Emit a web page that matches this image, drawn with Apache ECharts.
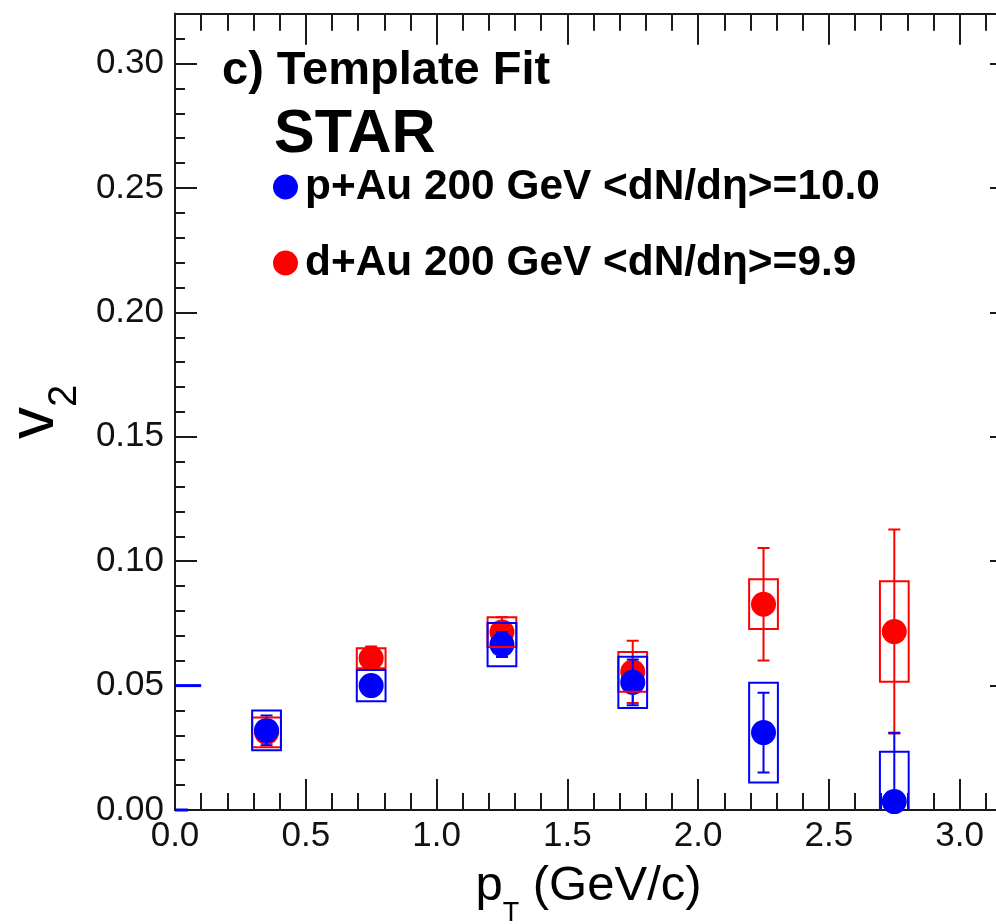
<!DOCTYPE html>
<html>
<head>
<meta charset="utf-8">
<script src="https://cdn.jsdelivr.net/npm/echarts@6/dist/echarts.min.js"></script>
<style>
  html, body { margin: 0; padding: 0; background: #ffffff; }
  #chart { width: 996px; height: 924px; }
</style>
</head>
<body>
<div id="chart"></div>
<script>
// pT bin centres (GeV/c)
const ptBins = [0.35, 0.75, 1.25, 1.75, 2.25, 2.75];

// p+Au 200 GeV, <dN/deta> = 10.0 : v2, statistical and systematic uncertainties
const pAuV2   = [0.0320, 0.0500, 0.0665, 0.0513, 0.0311, 0.0034];
const pAuStat = [0.0060, 0.0040, 0.0050, 0.0092, 0.0160, 0.0276];
const pAuSys  = [0.0080, 0.0063, 0.0087, 0.0103, 0.0200, 0.0200];

// d+Au 200 GeV, <dN/deta> = 9.9
const dAuV2   = [0.0312, 0.0610, 0.0715, 0.0555, 0.0827, 0.0717];
const dAuStat = [0.0040, 0.0047, 0.0060, 0.0125, 0.0226, 0.0410];
const dAuSys  = [0.0060, 0.0040, 0.0060, 0.0080, 0.0100, 0.0202];

// short horizontal segments sitting on the left edge: [xStart, xEnd, y]
const edgeStubs = [[0, 0.10, 0.05], [0, 0.05, 0]];

// axis ranges and tick steps
const xRange = [0, 3.2];
const yRange = [0, 0.32];
const xMajorStep = 0.5, xMinorStep = 0.1;
const yMajorStep = 0.05, yMinorStep = 0.01;

const pAuName = 'p+Au 200 GeV <dN/d\u03b7>=10.0';
const dAuName = 'd+Au 200 GeV <dN/d\u03b7>=9.9';

const BLUE = '#0000ff';
const RED = '#ff0000';
const FRAME = '#1a1a1a';
const FONT = '"Liberation Sans", Arial, Helvetica, sans-serif';
const boxHalfWidth = 0.055;   // half width of the systematic boxes, in pT units
const capHalf = 6;            // half width of error-bar caps, px

const chart = echarts.init(document.getElementById('chart'), null, { renderer: 'canvas' });

function frameAxis(kind, position, gridIndex, step, tickLen, labels, extra) {
  const range = kind === 'x' ? xRange : yRange;
  const digits = kind === 'x' ? 1 : 2;
  return Object.assign({
    type: 'value',
    gridIndex: gridIndex,
    position: position,
    min: range[0],
    max: range[1],
    interval: step,
    axisLine: { show: true, onZero: false, lineStyle: { color: FRAME, width: 2 } },
    axisTick: { show: true, inside: true, length: tickLen, lineStyle: { color: FRAME, width: 2 } },
    axisLabel: labels ? {
      show: true,
      color: '#111',
      fontFamily: FONT,
      fontSize: 35,
      margin: kind === 'x' ? 9 : 11,
      showMaxLabel: false,
      formatter: v => v.toFixed(digits)
    } : { show: false },
    splitLine: { show: false },
    minorTick: { show: false }
  }, extra || {});
}

function boxSeries(values, sys, color, z) {
  return {
    type: 'custom',
    xAxisIndex: 0, yAxisIndex: 0,
    clip: true, silent: true, z: z,
    data: ptBins.map((x, i) => [x, values[i] - sys[i], values[i] + sys[i]]),
    renderItem: function (params, api) {
      const x = api.value(0);
      const p0 = api.coord([x - boxHalfWidth, api.value(2)]);
      const p1 = api.coord([x + boxHalfWidth, api.value(1)]);
      return {
        type: 'rect',
        shape: { x: p0[0], y: p0[1], width: p1[0] - p0[0], height: p1[1] - p0[1] },
        style: { fill: 'none', stroke: color, lineWidth: 2 }
      };
    }
  };
}

function errorSeries(values, stat, color, z) {
  return {
    type: 'custom',
    xAxisIndex: 0, yAxisIndex: 0,
    clip: true, silent: true, z: z,
    data: ptBins.map((x, i) => [x, values[i] - stat[i], values[i] + stat[i]]),
    renderItem: function (params, api) {
      const lo = api.coord([api.value(0), api.value(1)]);
      const hi = api.coord([api.value(0), api.value(2)]);
      const st = { stroke: color, lineWidth: 2 };
      return {
        type: 'group',
        children: [
          { type: 'line', shape: { x1: lo[0], y1: lo[1], x2: hi[0], y2: hi[1] }, style: st },
          { type: 'line', shape: { x1: lo[0] - capHalf, y1: lo[1], x2: lo[0] + capHalf, y2: lo[1] }, style: st },
          { type: 'line', shape: { x1: hi[0] - capHalf, y1: hi[1], x2: hi[0] + capHalf, y2: hi[1] }, style: st }
        ]
      };
    }
  };
}

function markerSeries(name, values, color, z) {
  return {
    type: 'scatter',
    name: name,
    xAxisIndex: 0, yAxisIndex: 0,
    symbol: 'circle',
    symbolSize: 25,
    itemStyle: { color: color, opacity: 1 },
    silent: true, z: z,
    data: ptBins.map((x, i) => [x, values[i]])
  };
}

const plotBox = { left: 175, width: 837, top: 13.8, height: 796.2, containLabel: false, outerBoundsMode: 'none' };

const option = {
  animation: false,
  backgroundColor: '#ffffff',
  textStyle: { fontFamily: FONT },
  grid: [ Object.assign({}, plotBox), Object.assign({}, plotBox) ],
  title: [
    {
      text: 'c) Template Fit',
      left: 222, top: 48, padding: 0,
      textStyle: { fontFamily: FONT, fontSize: 47, fontWeight: 'bold', color: '#000', lineHeight: 47 }
    },
    {
      text: 'STAR',
      left: 274, top: 105, padding: 0,
      textStyle: { fontFamily: FONT, fontSize: 61, fontWeight: 'bold', color: '#000', lineHeight: 61 }
    }
  ],
  legend: {
    orient: 'vertical',
    left: 273, top: 164,
    padding: 0,
    itemWidth: 25, itemHeight: 25,
    itemGap: 30,
    icon: 'circle',
    selectedMode: false,
    data: [pAuName, dAuName],
    textStyle: { fontFamily: FONT, fontSize: 42.4, fontWeight: 'bold', color: '#000', lineHeight: 46, padding: [0, 0, 0, 2] }
  },
  xAxis: [
    frameAxis('x', 'bottom', 0, xMajorStep, 31, true, {
      name: '{p|p}{t|T}{r| (GeV/c)}',
      nameLocation: 'middle',
      nameGap: 52,
      nameTextStyle: {
        color: '#000',
        rich: {
          p: { fontFamily: FONT, fontSize: 49, lineHeight: 49, verticalAlign: 'top', color: '#000' },
          t: { fontFamily: FONT, fontSize: 27, lineHeight: 27, verticalAlign: 'top', padding: [38, 0, 0, 0], color: '#000' },
          r: { fontFamily: FONT, fontSize: 49, lineHeight: 49, verticalAlign: 'top', color: '#000', padding: [0, 10, 0, 0] }
        }
      }
    }),
    frameAxis('x', 'top', 0, xMajorStep, 31, false),
    frameAxis('x', 'bottom', 1, xMinorStep, 17, false),
    frameAxis('x', 'top', 1, xMinorStep, 17, false)
  ],
  yAxis: [
    frameAxis('y', 'left', 0, yMajorStep, 22, true, {
      name: '{v|v}{s|2}',
      nameLocation: 'middle',
      nameRotate: 90,
      nameGap: 85,
      nameTextStyle: {
        color: '#000',
        rich: {
          v: { fontFamily: FONT, fontSize: 64, lineHeight: 64, verticalAlign: 'top', color: '#000' },
          s: { fontFamily: FONT, fontSize: 40, lineHeight: 40, verticalAlign: 'top', padding: [42, 0, 0, 0], color: '#000' }
        }
      }
    }),
    frameAxis('y', 'right', 0, yMajorStep, 22, false),
    frameAxis('y', 'left', 1, yMinorStep, 10, false),
    frameAxis('y', 'right', 1, yMinorStep, 10, false)
  ],
  series: [
    errorSeries(dAuV2, dAuStat, RED, 2),
    markerSeries(dAuName, dAuV2, RED, 3),
    errorSeries(pAuV2, pAuStat, BLUE, 4),
    markerSeries(pAuName, pAuV2, BLUE, 5),
    boxSeries(dAuV2, dAuSys, RED, 6),
    boxSeries(pAuV2, pAuSys, BLUE, 7),
    {
      type: 'custom',
      xAxisIndex: 0, yAxisIndex: 0,
      clip: false, silent: true, z: 8,
      data: edgeStubs,
      renderItem: function (params, api) {
        const a = api.coord([api.value(0), api.value(2)]);
        const b = api.coord([api.value(1), api.value(2)]);
        return {
          type: 'line',
          shape: { x1: a[0], y1: a[1], x2: b[0], y2: b[1] },
          style: { stroke: BLUE, lineWidth: 3 }
        };
      }
    }
  ]
};

chart.setOption(option);
</script>
</body>
</html>
